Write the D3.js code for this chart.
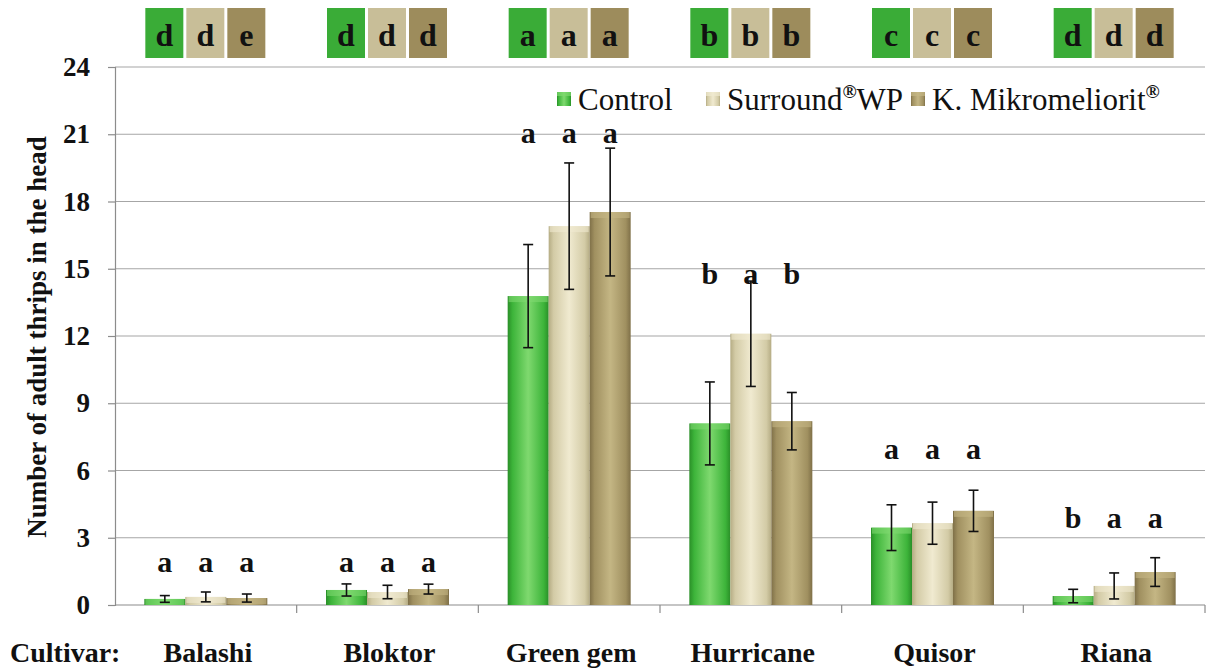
<!DOCTYPE html>
<html><head><meta charset="utf-8">
<script src="https://cdn.jsdelivr.net/npm/d3@7"></script>
</head><body style="margin:0">
<svg id="c" width="1208" height="670" style="display:block"></svg>
<script>
const cultivars = ["Balashi","Bloktor","Green gem","Hurricane","Quisor","Riana"];
const seriesNames = ["Control","Surround","K. Mikromeliorit"];
const control   = [0.27, 0.67, 13.78, 8.1, 3.45, 0.4];
const surround  = [0.36, 0.58, 16.9, 12.1, 3.65, 0.85];
const mikro     = [0.31, 0.71, 17.53, 8.2, 4.2, 1.47];
const controlErr  = [0.15, 0.27, 2.3, 1.85, 1.02, 0.3];
const surroundErr = [0.22, 0.3, 2.82, 2.35, 0.94, 0.58];
const mikroErr    = [0.18, 0.22, 2.85, 1.28, 0.92, 0.64];
const barLetters = [["a","a","a"],["a","a","a"],["a","a","a"],["b","a","b"],["a","a","a"],["b","a","a"]];
const letterLevel = [1.45, 1.45, 20.6, 14.3, 6.5, 3.45];
const topLetters = [["d","d","e"],["d","d","d"],["a","a","a"],["b","b","b"],["c","c","c"],["d","d","d"]];
const yTicks = [0,3,6,9,12,15,18,21,24];

(function(){
const FF = '"Times New Roman", "Liberation Serif", Tinos';
const values = [control, surround, mikro];
const errs = [controlErr, surroundErr, mikroErr];
const colors = [
  {base:"#3db43a", light:"#7fd96f", dark:"#2a8f28"},
  {base:"#d3cba6", light:"#f0ead0", dark:"#b5ac84"},
  {base:"#a09060", light:"#c4b684", dark:"#7f7048"}
];
const boxColors = ["#3aac37","#c8be98","#9d8c5c"];

const svg = d3.select("#c");
const pL = 115, pR = 1205, pT = 67, pB = 605;
const x0 = d3.scaleBand().domain(cultivars).range([pL, pR]).paddingInner(0).paddingOuter(0);
const groupW = 123;
const x1 = d3.scaleBand().domain([0,1,2]).range([0, groupW]).padding(0);
const off = (x0.bandwidth() - groupW) / 2;
const y = d3.scaleLinear().domain([0,24]).range([pB, pT]);

function txt(sel, size, bold){
  return sel.style("font-family", FF).style("font-size", size+"px").style("font-weight", bold ? "bold" : "normal").style("fill","#111");
}

const defs = svg.append("defs");
colors.forEach((c,i)=>{
  const g = defs.append("linearGradient").attr("id","g"+i).attr("x1","0").attr("x2","1").attr("y1","0").attr("y2","0");
  g.append("stop").attr("offset","0").attr("stop-color",c.dark);
  g.append("stop").attr("offset","0.12").attr("stop-color",c.base);
  g.append("stop").attr("offset","0.5").attr("stop-color",c.light);
  g.append("stop").attr("offset","0.88").attr("stop-color",c.base);
  g.append("stop").attr("offset","1").attr("stop-color",c.dark);
});

svg.append("g").selectAll("line").data(yTicks.filter(d=>d>0)).join("line")
  .attr("x1", pL).attr("x2", pR).attr("y1", d=>y(d)).attr("y2", d=>y(d))
  .attr("stroke", "#a6a6a6").attr("stroke-width", 1.2);

const yAxis = d3.axisLeft(y).tickValues(yTicks).tickSize(7).tickPadding(18).tickFormat(d3.format("d"));
const ya = svg.append("g").attr("transform", `translate(${pL},0)`).call(yAxis);
ya.attr("font-family", null).attr("font-size", null);
ya.select(".domain").attr("stroke","#8c8c8c").attr("stroke-width",1.2);
ya.selectAll(".tick line").attr("stroke","#8c8c8c").attr("stroke-width",1.2);
txt(ya.selectAll("text"), 27, true);

const xa = svg.append("g").attr("transform", `translate(0,${pB})`);
xa.append("line").attr("x1",pL).attr("x2",pR).attr("stroke","#8c8c8c").attr("stroke-width",1.2);
xa.selectAll("line.t").data(cultivars).join("line").attr("class","t")
  .attr("x1", d=>x0(d)+x0.bandwidth()).attr("x2", d=>x0(d)+x0.bandwidth())
  .attr("y1",0).attr("y2",8).attr("stroke","#8c8c8c").attr("stroke-width",1.2);
txt(svg.append("g").selectAll("text").data(cultivars).join("text")
  .attr("x", d=>x0(d)+x0.bandwidth()/2+2).attr("y", 662)
  .attr("text-anchor","middle"), 28, true).text(d=>d);
txt(svg.append("text").attr("x",10).attr("y",662), 28, true).text("Cultivar:");

txt(svg.append("text").attr("transform","translate(46,337) rotate(-90)").attr("text-anchor","middle"), 27, true)
  .text("Number of adult thrips in the head");

const groups = svg.append("g").selectAll("g").data(cultivars).join("g")
  .attr("transform", d=>`translate(${x0(d)+off},0)`);
groups.each(function(c, ci){
  const g = d3.select(this);
  [0,1,2].forEach(si=>{
    const v = values[si][ci], e = errs[si][ci];
    const bx = x1(si), bw = x1.bandwidth();
    g.append("rect").attr("x",bx).attr("y",y(v)).attr("width",bw).attr("height",y(0)-y(v))
      .attr("fill",`url(#g${si})`);
    const bh = Math.min(6, y(0)-y(v));
    g.append("rect").attr("x",bx+1).attr("y",y(v)).attr("width",bw-2).attr("height",bh)
      .attr("fill",colors[si].light).attr("opacity",0.6);
    const cx = bx + bw/2;
    g.append("line").attr("x1",cx).attr("x2",cx).attr("y1",y(v+e)).attr("y2",y(Math.max(0,v-e)))
      .attr("stroke","#111").attr("stroke-width",1.6);
    [v+e, Math.max(0,v-e)].forEach(t=>{
      g.append("line").attr("x1",cx-5).attr("x2",cx+5).attr("y1",y(t)).attr("y2",y(t))
        .attr("stroke","#111").attr("stroke-width",1.6);
    });
    txt(g.append("text").attr("x",cx).attr("y",y(letterLevel[ci])).attr("text-anchor","middle"), 30, true)
      .text(barLetters[ci][si]);
    g.append("rect").attr("x",bx+1).attr("y",8).attr("width",bw-3).attr("height",50)
      .attr("fill",boxColors[si]);
    txt(g.append("text").attr("x",cx-0.5).attr("y",46).attr("text-anchor","middle"), 32, true)
      .text(topLetters[ci][si]);
  });
});

const legend = svg.append("g");
const legItems = [
  {x:557, label:"Control", sup:null, after:null},
  {x:706, label:"Surround", sup:"®", after:"WP"},
  {x:911, label:"K. Mikromeliorit", sup:"®", after:null}
];
legItems.forEach((it,i)=>{
  legend.append("rect").attr("x",it.x).attr("y",92).attr("width",14).attr("height",14)
    .attr("fill",`url(#g${i})`);
  legend.append("rect").attr("x",it.x).attr("y",92).attr("width",14).attr("height",4)
    .attr("fill",colors[i].light).attr("opacity",0.7);
  const t = txt(legend.append("text").attr("x",it.x+21).attr("y",110), 31, false);
  t.append("tspan").text(it.label);
  if (it.sup) t.append("tspan").style("font-size","19px").style("font-weight","bold").attr("dy",-12).text(it.sup);
  if (it.after) t.append("tspan").attr("dy",12).text(it.after);
});
})();
</script>
</body></html>
